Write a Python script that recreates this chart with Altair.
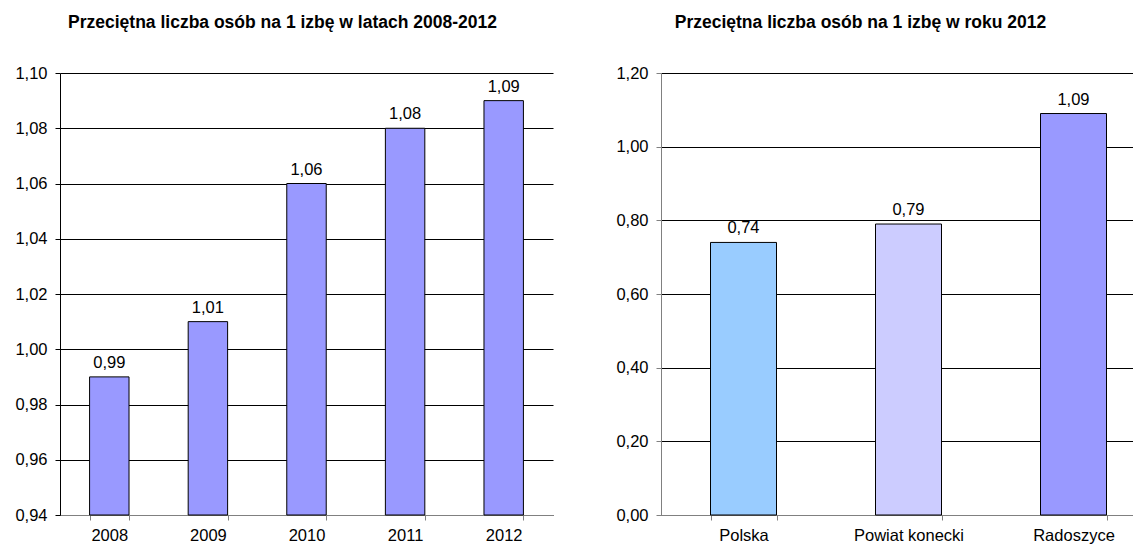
import altair as alt
import pandas as pd

# ---- data ----
years = ["2008", "2009", "2010", "2011", "2012"]
year_values = [0.99, 1.01, 1.06, 1.08, 1.09]
left_ticks = [0.94, 0.96, 0.98, 1.00, 1.02, 1.04, 1.06, 1.08, 1.10]

regions = ["Polska", "Powiat konecki", "Radoszyce"]
region_values = [0.74, 0.79, 1.09]
region_colors = ["#99CCFF", "#CCCCFF", "#9999FF"]
right_ticks = [0.0, 0.2, 0.4, 0.6, 0.8, 1.0, 1.2]

title_left = "Przeciętna liczba osób na 1 izbę w latach 2008-2012"
title_right = "Przeciętna liczba osób na 1 izbę w roku 2012"

FONT = "Liberation Sans"
LABEL_SIZE = 16.5
TITLE_SIZE = 17.5
COMMA = "replace(format(datum.value, '.2f'), '.', ',')"


def pl(v):
    return f"{v:.2f}".replace(".", ",")


df1 = pd.DataFrame({"rok": years, "wartosc": year_values,
                    "etykieta": [pl(v) for v in year_values]})
df2 = pd.DataFrame({"obszar": regions, "wartosc": region_values,
                    "etykieta": [pl(v) for v in region_values]})


def x_axis():
    return alt.Axis(labelAngle=0, tickBand="extent", domainColor="#808080",
                    tickColor="#808080", tickSize=5, labelPadding=7,
                    labelFont=FONT, labelFontSize=LABEL_SIZE, labelColor="black",
                    grid=False, title=None)


def y_axis(vals, dom_color):
    return alt.Axis(values=vals, labelExpr=COMMA, grid=True, gridColor="black",
                    gridWidth=1, domainColor=dom_color, tickColor=dom_color,
                    tickSize=5, labelPadding=8,
                    labelFont=FONT, labelFontSize=LABEL_SIZE, labelColor="black",
                    title=None)


band = alt.Scale(paddingInner=0.6, paddingOuter=0.3)

# ---- left chart ----
x1 = alt.X("rok:N", sort=years, scale=band, axis=x_axis())
y1 = alt.Y("wartosc:Q", scale=alt.Scale(domain=[0.94, 1.10], zero=False, nice=False),
           axis=y_axis(left_ticks, "black"))

bars1 = alt.Chart(df1).mark_bar(color="#9999FF", stroke="black", strokeWidth=1).encode(
    x=x1, y=y1, y2=alt.datum(0.94))
text1 = alt.Chart(df1).mark_text(dy=-9, baseline="alphabetic", font=FONT,
                                 fontSize=LABEL_SIZE, color="black").encode(
    x=alt.X("rok:N", sort=years), y=alt.Y("wartosc:Q"), text="etykieta:N")

left = alt.layer(bars1, text1).properties(
    width=493, height=442,
    title=alt.TitleParams(title_left, font=FONT, fontSize=TITLE_SIZE, fontWeight="bold",
                          color="black", anchor="middle", frame="group", dx=-24,
                          offset=34))

# ---- right chart ----
x2 = alt.X("obszar:N", sort=regions, scale=band, axis=x_axis())
y2 = alt.Y("wartosc:Q", scale=alt.Scale(domain=[0, 1.2], nice=False),
           axis=y_axis(right_ticks, "#808080"))

bars2 = alt.Chart(df2).mark_bar(stroke="black", strokeWidth=1).encode(
    x=x2, y=y2,
    color=alt.Color("obszar:N", sort=regions,
                    scale=alt.Scale(domain=regions, range=region_colors), legend=None))
text2 = alt.Chart(df2).mark_text(dy=-9, baseline="alphabetic", font=FONT,
                                 fontSize=LABEL_SIZE, color="black").encode(
    x=alt.X("obszar:N", sort=regions), y=alt.Y("wartosc:Q"), text="etykieta:N")

right = alt.layer(bars2, text2).properties(
    width=495, height=442,
    title=alt.TitleParams(title_right, font=FONT, fontSize=TITLE_SIZE, fontWeight="bold",
                          color="black", anchor="middle", frame="group", dx=-48,
                          offset=34))

chart = alt.hconcat(left, right, spacing=62).properties(
    autosize=alt.AutoSizeParams(type="none"),
    padding={"left": 52, "top": 65, "right": 1073, "bottom": 471},
    background="white",
).configure_view(stroke=None)

chart.save("out.html", embed_options={"renderer": "svg", "actions": False})
